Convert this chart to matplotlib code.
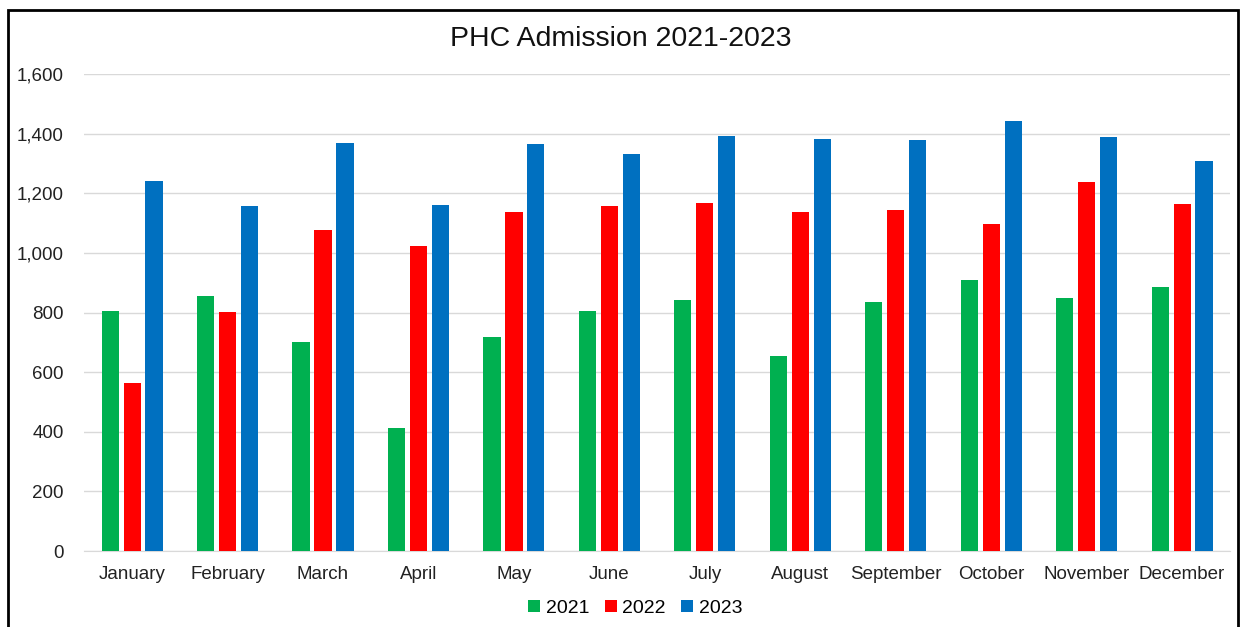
import numpy as np
import matplotlib.pyplot as plt
from matplotlib.patches import Rectangle
from matplotlib.ticker import FuncFormatter

plt.rcParams['font.family'] = ['Liberation Sans', 'DejaVu Sans']

months = ["January", "February", "March", "April", "May", "June",
          "July", "August", "September", "October", "November", "December"]
adm_2021 = [805, 855, 701, 413, 718, 805, 842, 654, 835, 909, 849, 885]
adm_2022 = [563, 802, 1077, 1023, 1137, 1157, 1167, 1137, 1144, 1097, 1238, 1164]
adm_2023 = [1241, 1157, 1368, 1160, 1365, 1332, 1392, 1382, 1378, 1442, 1389, 1308]
years = ["2021", "2022", "2023"]
colors = ["#00B050", "#FF0000", "#0070C0"]

fig = plt.figure(figsize=(12.41, 6.27), dpi=100)
ax = fig.add_axes([0.068, 0.121, 0.923, 0.761])

x = np.arange(len(months))
w = 0.18
step = 0.23
for i, (vals, yr, c) in enumerate(zip([adm_2021, adm_2022, adm_2023], years, colors)):
    ax.bar(x + (i - 1) * step, vals, width=w, color=c, label=yr, zorder=3)

ax.set_xlim(-0.5, len(months) - 0.5)
ax.set_ylim(0, 1600)
ax.set_yticks(np.arange(0, 1601, 200))
ax.yaxis.set_major_formatter(FuncFormatter(lambda v, p: f"{int(v):,}"))
ax.set_xticks(x)
ax.set_xticklabels(months)
ax.tick_params(axis='both', length=0, labelsize=13.5, colors='#222222', pad=11)
ax.tick_params(axis='y', pad=15)
ax.grid(axis='y', color='#D9D9D9', linewidth=1, zorder=0)
for s in ['top', 'right', 'left']:
    ax.spines[s].set_visible(False)
ax.spines['bottom'].set_color('#D9D9D9')

fig.text(0.5, 0.938, "PHC Admission 2021-2023", ha='center', va='center', fontsize=20.5, color='#111111')

fig.legend(loc='center', bbox_to_anchor=(0.512, 0.03), ncol=3, frameon=False,
           fontsize=14, handlelength=0.6, handleheight=0.6, handletextpad=0.3, columnspacing=0.8)

fig.patches.append(Rectangle((8 / 1241, -0.05), 1230 / 1241, 1.05 - 10 / 627,
                             transform=fig.transFigure, fill=False, edgecolor='black',
                             linewidth=2, clip_on=False))

fig.savefig("out.png", dpi=100)
